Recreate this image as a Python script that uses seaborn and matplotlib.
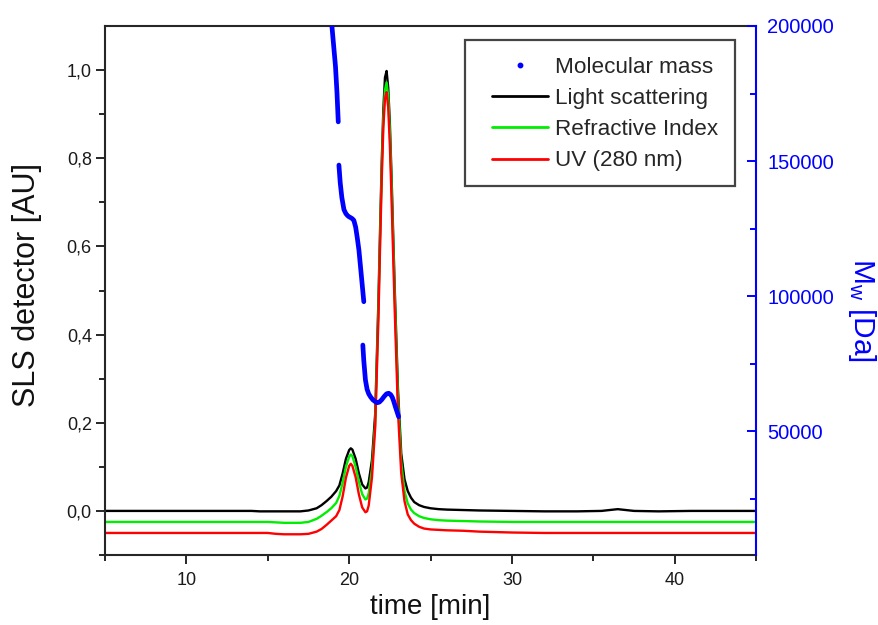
import matplotlib
matplotlib.use("Agg")
import matplotlib.pyplot as plt
import numpy as np
import pandas as pd
import seaborn as sns
from matplotlib.ticker import MultipleLocator, FixedLocator, FuncFormatter
from matplotlib.lines import Line2D
from matplotlib.patches import Rectangle

# ---------------- data ----------------
time = [5, 8, 10, 12, 14, 14.5, 15, 15.5, 16, 16.5,
        17, 17.5, 18.0, 18.3, 18.6, 18.9, 19.2, 19.4, 19.6, 19.8,
        20.0, 20.1, 20.2, 20.4, 20.6, 20.8, 21.0, 21.1, 21.2, 21.4,
        21.6, 21.8, 21.9, 22.0, 22.1, 22.2, 22.3, 22.4, 22.5, 22.6,
        22.7, 22.8, 23.0, 23.2, 23.4, 23.6, 23.8, 24.0, 24.3, 24.6,
        25.0, 25.5, 26, 27, 28, 30, 32, 34, 35.5, 36.5,
        37.5, 39, 41, 43, 45]

light_scattering = [0.0, 0.0, 0.0, 0.0, 0.0, -0.001, -0.001, -0.001, -0.001, -0.001,
                    -0.001, 0.001, 0.006, 0.013, 0.022, 0.032, 0.045, 0.058, 0.085, 0.118,
                    0.138, 0.142, 0.139, 0.118, 0.085, 0.060, 0.051, 0.053, 0.065, 0.115,
                    0.22, 0.48, 0.64, 0.79, 0.91, 0.983, 0.998, 0.96, 0.88, 0.765,
                    0.635, 0.505, 0.275, 0.13, 0.072, 0.045, 0.030, 0.020, 0.013, 0.009,
                    0.006, 0.004, 0.003, 0.002, 0.001, 0.0, -0.001, -0.001, 0.0, 0.004,
                    0.0, -0.001, 0.0, 0.0, 0.0]

refractive_index = [-0.025, -0.025, -0.025, -0.025, -0.025, -0.025, -0.025, -0.026, -0.027, -0.027,
                    -0.027, -0.025, -0.018, -0.011, -0.003, 0.006, 0.018, 0.034, 0.064, 0.100,
                    0.123, 0.128, 0.124, 0.100, 0.066, 0.038, 0.026, 0.028, 0.040, 0.095,
                    0.20, 0.46, 0.62, 0.77, 0.89, 0.955, 0.972, 0.94, 0.86, 0.745,
                    0.615, 0.485, 0.255, 0.11, 0.045, 0.017, 0.003, -0.005, -0.012, -0.016,
                    -0.019, -0.021, -0.022, -0.023, -0.024, -0.025, -0.025, -0.025, -0.025, -0.025,
                    -0.025, -0.025, -0.025, -0.025, -0.025]

uv_280 = [-0.050, -0.050, -0.050, -0.050, -0.050, -0.050, -0.050, -0.052, -0.053, -0.053,
          -0.053, -0.052, -0.047, -0.041, -0.032, -0.022, -0.012, 0.002, 0.033, 0.075,
          0.102, 0.107, 0.102, 0.076, 0.037, 0.008, -0.003, -0.001, 0.012, 0.075,
          0.19, 0.44, 0.60, 0.75, 0.87, 0.935, 0.950, 0.915, 0.83, 0.715,
          0.585, 0.455, 0.225, 0.085, 0.022, -0.008, -0.021, -0.029, -0.036, -0.040,
          -0.042, -0.043, -0.044, -0.045, -0.047, -0.049, -0.050, -0.050, -0.050, -0.050,
          -0.050, -0.050, -0.050, -0.050, -0.050]

detector_names = ["Light scattering", "Refractive Index", "UV (280 nm)"]
detector_colors = ["black", "#00ee00", "#ff0000"]

# molecular mass (three separated runs of points)
mass_time_1 = [18.85, 18.94, 19.05, 19.16, 19.25, 19.33]
mass_1 = [208000, 200000, 192500, 185000, 175500, 164500]
mass_time_2 = [19.37, 19.45, 19.55, 19.68, 19.80, 19.90, 19.98, 20.10, 20.20, 20.29,
               20.40, 20.50, 20.60, 20.75, 20.90]
mass_2 = [148500, 142000, 136500, 132000, 130500, 129800, 129400, 129000, 128600, 128000,
          125500, 121500, 117000, 107500, 97900]
mass_time_3 = [20.84, 20.90, 21.00, 21.10, 21.20, 21.31, 21.45, 21.60, 21.72, 21.85,
               22.00, 22.15, 22.30, 22.43, 22.55, 22.65, 22.74, 22.85, 22.95, 23.04]
mass_3 = [81850, 76000, 68900, 65500, 63800, 62700, 61600, 60900, 60500, 60700,
          61600, 62800, 63800, 64000, 63500, 62500, 61000, 58800, 57000, 55300]

x_major = [10, 20, 30, 40]
y_major = [0.0, 0.2, 0.4, 0.6, 0.8, 1.0]
mw_major = [50000, 100000, 150000, 200000]

# ---------------- tables ----------------
sig_df = pd.concat([
    pd.DataFrame({"time": time, "signal": vals, "detector": name})
    for name, vals in zip(detector_names, [light_scattering, refractive_index, uv_280])
], ignore_index=True)

mass_df = pd.concat([
    pd.DataFrame({"time": t, "mass": m, "segment": i})
    for i, (t, m) in enumerate([(mass_time_1, mass_1), (mass_time_2, mass_2), (mass_time_3, mass_3)])
], ignore_index=True)

# ---------------- style ----------------
sns.set_style("ticks")
plt.rcParams["font.family"] = ["Liberation Sans", "DejaVu Sans"]
plt.rcParams["mathtext.fontset"] = "custom"
plt.rcParams["mathtext.rm"] = "Liberation Sans"
plt.rcParams["mathtext.it"] = "Liberation Sans:italic"

fig = plt.figure(figsize=(8.79, 6.25), dpi=100)
ax = fig.add_axes([0.1195, 0.112, 0.7406, 0.8464])

sns.lineplot(data=sig_df, x="time", y="signal", hue="detector", hue_order=detector_names,
             palette=dict(zip(detector_names, detector_colors)), linewidth=1.7,
             sort=False, estimator=None, ax=ax, legend=False)

ax2 = ax.twinx()
sns.lineplot(data=mass_df, x="time", y="mass", units="segment", estimator=None,
             sort=False, color="#0000ff", linewidth=3.4, ax=ax2, legend=False)

# ---------------- axes ----------------
spine_col = "#262626"
ax.set_xlim(5, 45)
ax.set_ylim(-0.1, 1.1)
ax2.set_ylim(4100, 200000)

ax.xaxis.set_major_locator(FixedLocator(x_major))
ax.xaxis.set_minor_locator(MultipleLocator(5))
ax.yaxis.set_major_locator(FixedLocator(y_major))
ax.yaxis.set_minor_locator(FixedLocator([-0.1, 0.1, 0.3, 0.5, 0.7, 0.9]))
ax.yaxis.set_major_formatter(FuncFormatter(lambda v, p: f"{v:.1f}".replace(".", ",")))

ax2.yaxis.set_major_locator(FixedLocator(mw_major))
ax2.yaxis.set_minor_locator(FixedLocator([25000, 75000, 125000, 175000]))

for s in ["left", "bottom", "top"]:
    ax.spines[s].set_color(spine_col)
    ax.spines[s].set_linewidth(1.5)
    ax.spines[s].set_visible(True)
ax.spines["right"].set_visible(False)
for s in ["left", "bottom", "top"]:
    ax2.spines[s].set_visible(False)
ax2.spines["right"].set_color("#0000ff")
ax2.spines["right"].set_linewidth(1.5)

ax.tick_params(axis="both", which="major", direction="out", length=6.5, width=1.4,
               color=spine_col, labelsize=13, labelcolor="#1a1a1a", top=False, right=False)
ax.tick_params(axis="both", which="minor", direction="out", length=4, width=1.4,
               color=spine_col, top=False, right=False)
ax.tick_params(axis="x", which="major", pad=6)
ax.tick_params(axis="y", which="major", pad=3)
ax2.tick_params(axis="y", which="major", direction="in", length=6.5, width=1.4,
                colors="#0000ff", labelsize=14.5, pad=8)
ax2.tick_params(axis="y", which="minor", direction="in", length=4, width=1.4,
                colors="#0000ff")

ax.set_xlabel("time [min]", fontsize=20, color="#111111", labelpad=3)
ax.set_ylabel("SLS detector [AU]", fontsize=22, color="#111111")
ax.yaxis.set_label_coords(-0.12, 0.51)
ax.yaxis.label.set_va("center")
ax2.set_ylabel(r"M$_\mathregular{w}$ [Da]", fontsize=21.5, color="#0000ff", rotation=270)
ax2.yaxis.set_label_coords(1.163, 0.463)
ax2.yaxis.label.set_va("center")

# ---------------- legend ----------------
frame = Rectangle((465 / 879, 1 - 186 / 625), 270 / 879, 146 / 625, transform=fig.transFigure,
                  facecolor="white", edgecolor="#444444", linewidth=1.6, zorder=5)
fig.add_artist(frame)

handles = [Line2D([], [], color="#0000ff", marker="o", markersize=3.2, linestyle="none"),
           Line2D([], [], color=detector_colors[0], linewidth=2),
           Line2D([], [], color=detector_colors[1], linewidth=2),
           Line2D([], [], color=detector_colors[2], linewidth=2)]
labels = ["Molecular mass"] + detector_names
leg = fig.legend(handles, labels, loc="upper left", bbox_to_anchor=(492 / 879, 1 - 57 / 625),
                 bbox_transform=fig.transFigure, fontsize=16.2, frameon=False,
                 handlelength=2.5, handletextpad=0.3, labelspacing=0.45, borderpad=0,
                 borderaxespad=0)
leg.set_zorder(6)

fig.savefig("out.png", dpi=100)
